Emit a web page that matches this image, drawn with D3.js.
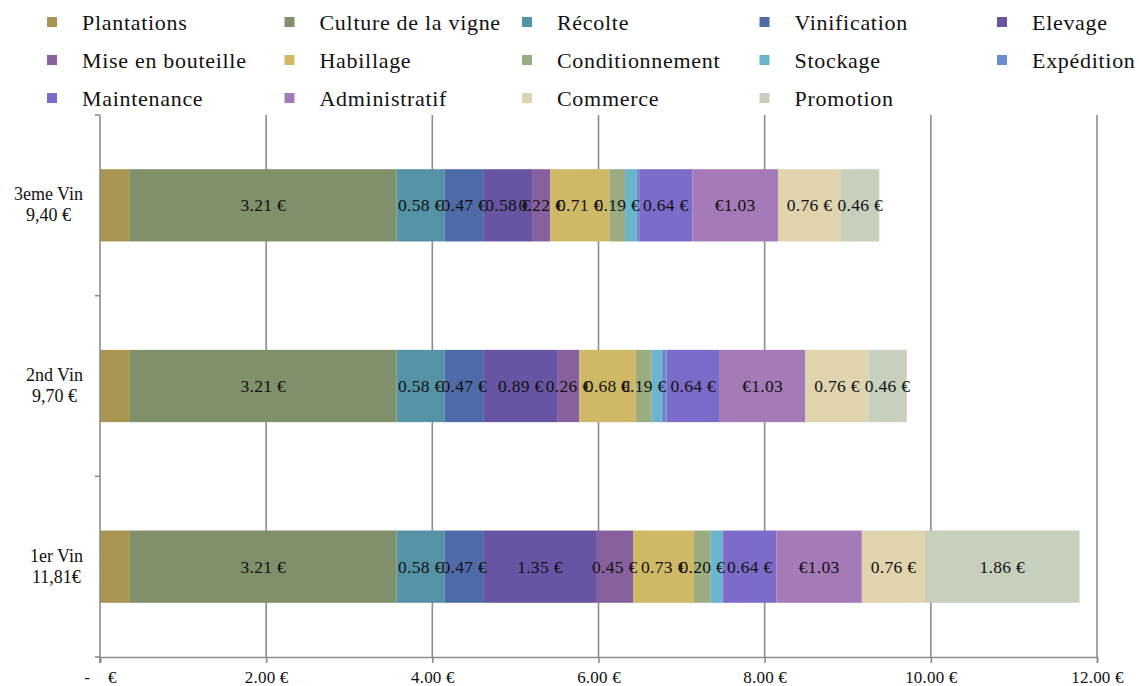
<!DOCTYPE html>
<html><head><meta charset="utf-8">
<script src="https://cdn.jsdelivr.net/npm/d3@7"></script>
<style>body{margin:0;background:#fff}svg{display:block}text{font-family:"Liberation Serif","Times New Roman",serif}</style>
</head><body><svg id="c" width="1139" height="686"></svg>
<script>
const categories = ["3eme Vin", "2nd Vin", "1er Vin"];
const totals = ["9,40 €", "9,70 €", "11,81€"];
const seriesNames = ["Plantations","Culture de la vigne","Récolte","Vinification","Elevage","Mise en bouteille","Habillage","Conditionnement","Stockage","Expédition","Maintenance","Administratif","Commerce","Promotion"];
const seriesColors = ["#a89551","#80906a","#5592a6","#4f6aa8","#6755a4","#87619e","#cfb866","#9bad80","#6ab4cc","#6b8dd0","#7c6bc8","#a47ab9","#e0d4ae","#c6d0bd"];
// values per series, in category order
const plantations = [0.36, 0.36, 0.36];
const culture = [3.21, 3.21, 3.21];
const recolte = [0.58, 0.58, 0.58];
const vinification = [0.47, 0.47, 0.47];
const elevage = [0.58, 0.89, 1.35];
const miseEnBouteille = [0.22, 0.26, 0.45];
const habillage = [0.71, 0.68, 0.73];
const conditionnement = [0.19, 0.19, 0.20];
const stockage = [0.14, 0.12, 0.14];
const expedition = [0.03, 0.06, 0.01];
const maintenance = [0.64, 0.64, 0.64];
const administratif = [1.03, 1.03, 1.03];
const commerce = [0.76, 0.76, 0.76];
const promotion = [0.46, 0.46, 1.86];
const seriesValues = [plantations, culture, recolte, vinification, elevage, miseEnBouteille, habillage, conditionnement, stockage, expedition, maintenance, administratif, commerce, promotion];
const showLabel = [false,true,true,true,true,true,true,true,false,false,true,true,true,true];
const xTicks = [0, 2, 4, 6, 8, 10, 12];

const svg = d3.select("#c");
const pLeft = 100, pRight = 1097, pTop = 115, pBottom = 657;
const x = d3.scaleLinear().domain([0, 12]).range([pLeft, pRight]);
const y = d3.scaleBand().domain(categories).range([pTop, pBottom]).paddingInner(0.6).paddingOuter(0.3);

// gridlines
svg.append("g").selectAll("line").data(xTicks.slice(1)).join("line")
  .attr("x1", d => x(d)).attr("x2", d => x(d)).attr("y1", pTop).attr("y2", pBottom)
  .attr("stroke", "#8c8c8c").attr("stroke-width", 1.6);

// stacked data
const rows = categories.map((c, i) => {
  let acc = 0;
  return seriesNames.map((s, j) => {
    const v = seriesValues[j][i];
    const seg = {cat: c, j, v, x0: acc, x1: acc + v};
    acc += v;
    return seg;
  });
}).flat();

svg.append("g").selectAll("rect").data(rows).join("rect")
  .attr("x", d => x(d.x0)).attr("width", d => x(d.x1) - x(d.x0))
  .attr("y", d => y(d.cat)).attr("height", y.bandwidth())
  .attr("fill", d => seriesColors[d.j]);

svg.append("g").selectAll("text").data(rows.filter(d => showLabel[d.j])).join("text")
  .attr("x", d => x((d.x0 + d.x1) / 2)).attr("y", d => y(d.cat) + y.bandwidth() / 2)
  .attr("text-anchor", "middle").attr("dominant-baseline", "central")
  .attr("font-size", 17.5).attr("letter-spacing", 0.3).attr("fill", "#111")
  .text(d => seriesNames[d.j] === "Administratif" ? "€" + d.v.toFixed(2) : d.v.toFixed(2) + " €");

// x axis
const xAxis = d3.axisBottom(x).tickValues(xTicks).tickSize(6).tickPadding(8)
  .tickFormat(d => d === 0 ? "-    €" : d.toFixed(2) + " €");
const gx = svg.append("g").attr("transform", `translate(0,${pBottom})`).call(xAxis);
gx.select(".domain").attr("stroke", "#8c8c8c").attr("stroke-width", 1.6);
gx.selectAll(".tick line").attr("stroke", "#8c8c8c").attr("stroke-width", 1.6);
gx.selectAll(".tick text").attr("font-size", 17).attr("letter-spacing", 0.2).attr("fill", "#111")
  .attr("font-family", "Liberation Serif").style("white-space", "pre");

// y axis
svg.append("line").attr("x1", pLeft).attr("x2", pLeft).attr("y1", pTop).attr("y2", pBottom + 6)
  .attr("stroke", "#8c8c8c").attr("stroke-width", 1.6);
svg.append("g").selectAll("line").data(categories.map(c => y(c) - y.step() * 0.3).concat([pBottom])).join("line")
  .attr("x1", pLeft - 5).attr("x2", pLeft).attr("y1", d => d).attr("y2", d => d)
  .attr("stroke", "#8c8c8c").attr("stroke-width", 1.6);

const cl = svg.append("g").selectAll("g").data(categories).join("g");
cl.each(function(c, i) {
  const g = d3.select(this);
  const cy = y(c) + y.bandwidth() / 2;
  const t1 = g.append("text").attr("y", cy - 11).attr("font-size", 18).attr("fill", "#111").attr("dominant-baseline", "central").text(c);
  const t2 = g.append("text").attr("y", cy + 10).attr("font-size", 18).attr("fill", "#111").attr("dominant-baseline", "central").text(totals[i]);
  const w = Math.max(t1.node().getComputedTextLength(), t2.node().getComputedTextLength());
  const cx = 83 - w / 2;
  t1.attr("x", cx).attr("text-anchor", "middle");
  t2.attr("x", cx).attr("text-anchor", "middle");
});

// legend
const lg = svg.append("g").selectAll("g").data(seriesNames).join("g")
  .attr("transform", (d, i) => `translate(${47 + (i % 5) * 237.5},${22 + Math.floor(i / 5) * 38})`);
lg.append("rect").attr("x", 0).attr("y", -5).attr("width", 10).attr("height", 10).attr("fill", (d, i) => seriesColors[i]);
lg.append("text").attr("x", 35).attr("y", 0).attr("dominant-baseline", "central")
  .attr("font-size", 22).attr("letter-spacing", 0.7).attr("fill", "#111").text(d => d);
</script></body></html>
